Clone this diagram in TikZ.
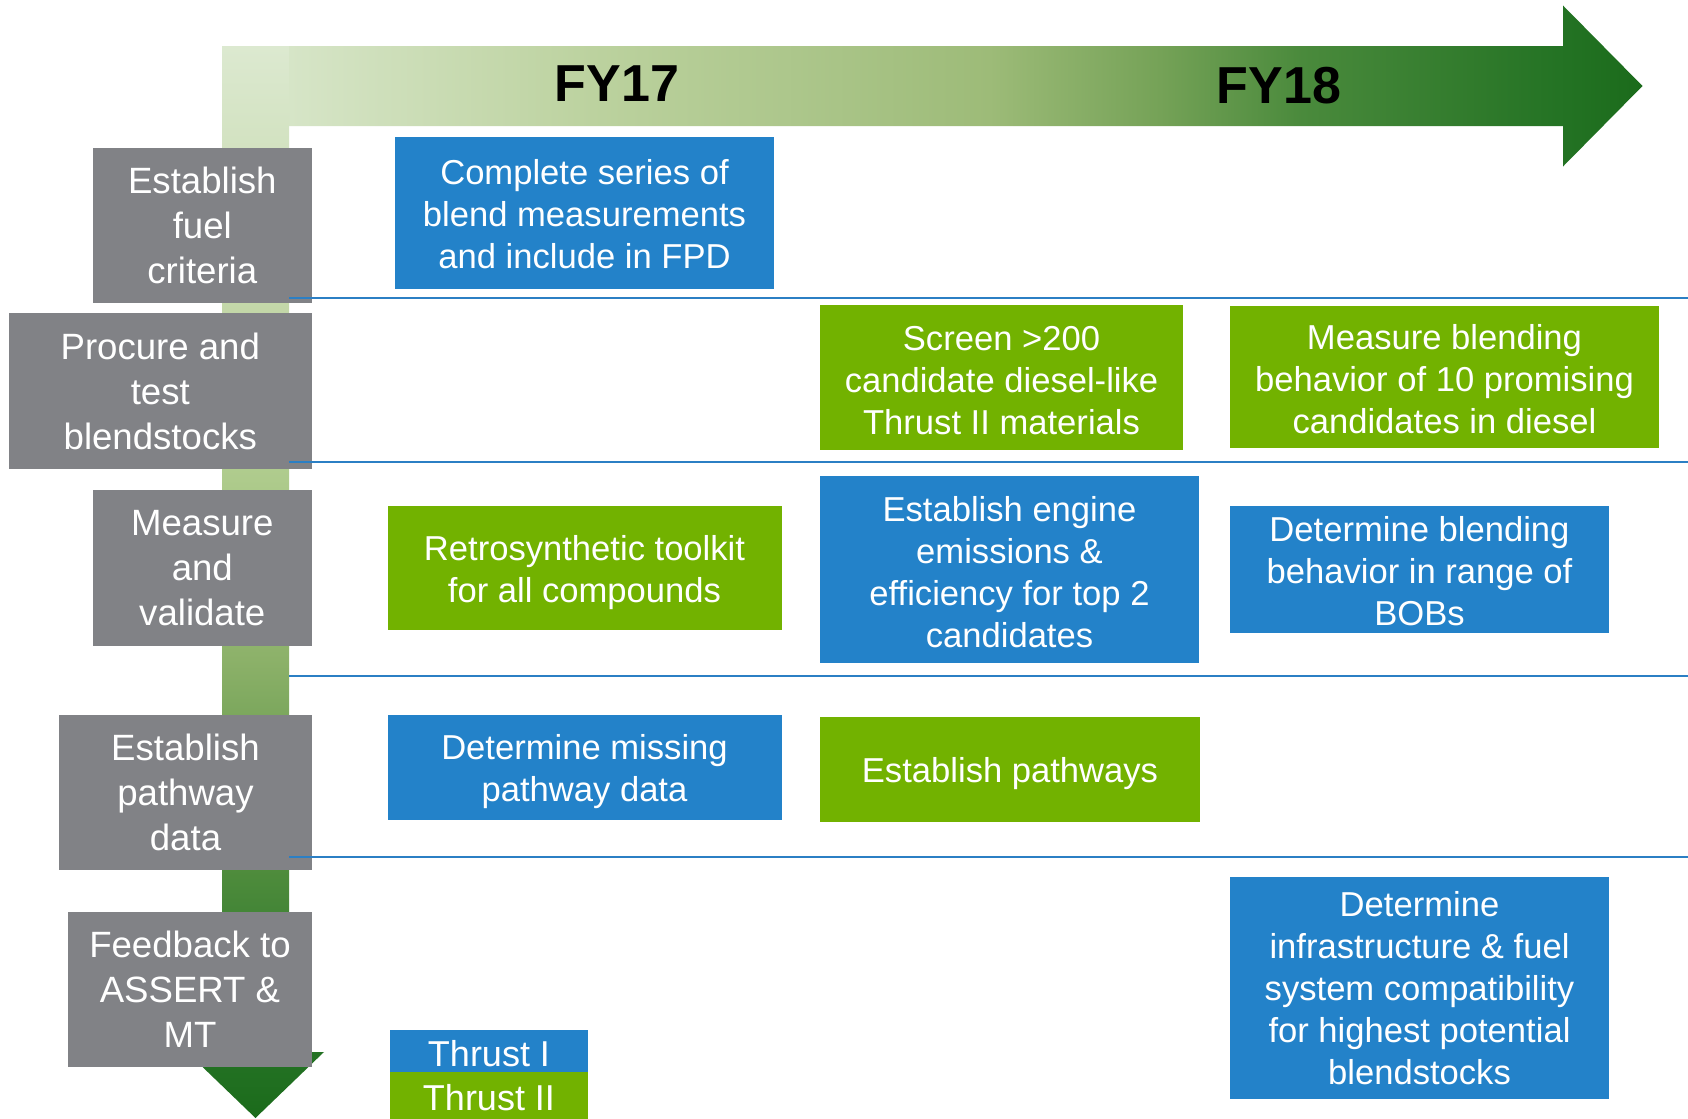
\documentclass[tikz,border=0pt]{standalone}
\usepackage{fontspec}
\setmainfont{Liberation Sans}
\definecolor{boxgray}{HTML}{818286}
\definecolor{tblue}{HTML}{2382C9}
\definecolor{tgreen}{HTML}{72B200}
\definecolor{rowblue}{HTML}{2B7FC4}
\definecolor{h0}{HTML}{DCE9D0}
\definecolor{h1}{HTML}{BCD29F}
\definecolor{h2}{HTML}{9DBB78}
\definecolor{h3}{HTML}{75A257}
\definecolor{h4}{HTML}{4A8A3C}
\definecolor{h5}{HTML}{247324}
\definecolor{h6}{HTML}{1B6B1B}
\definecolor{v0}{HTML}{1B6B1B}
\definecolor{v1}{HTML}{2C782C}
\definecolor{v2}{HTML}{4F8C3C}
\definecolor{v3}{HTML}{8CB169}
\definecolor{v4}{HTML}{AECB8C}
\definecolor{v5}{HTML}{C4D8AA}
\definecolor{v6}{HTML}{DCE9D0}
\pgfdeclarehorizontalshading{hband}{100bp}{color(0bp)=(h0); color(25bp)=(h0); color(38bp)=(h1); color(52bp)=(h2); color(58bp)=(h3); color(63bp)=(h4); color(72bp)=(h5); color(75bp)=(h6); color(100bp)=(h6)}
\pgfdeclareverticalshading{vband}{100bp}{color(0bp)=(v0); color(25bp)=(v0); color(30.5bp)=(v1); color(36.6bp)=(v2); color(46.4bp)=(v3); color(54.8bp)=(v4); color(63.2bp)=(v5); color(75bp)=(v6); color(100bp)=(v6)}
\newcommand{\mystrut}[1]{\rule{0pt}{#1}}
\tikzset{
  graybox/.style={fill=boxgray, text=white, font=\fontsize{18.3}{22.5}\selectfont, align=center, inner sep=0pt},
  bluebox/.style={fill=tblue, text=white, font=\fontsize{17.3}{21}\selectfont, align=center, inner sep=0pt},
  greenbox/.style={fill=tgreen, text=white, font=\fontsize{17.3}{21}\selectfont, align=center, inner sep=0pt},
  fylabel/.style={font=\bfseries\fontsize{26}{30}\selectfont, text=black, inner sep=0pt},
  rowline/.style={draw=rowblue, line width=1pt},
  legendbox/.style={text=white, font=\fontsize{18}{21}\selectfont, align=center, inner sep=0pt, minimum width=99pt}
}
\begin{document}
\begin{tikzpicture}[x=0.5pt,y=-0.5pt]
\useasboundingbox (0,0) rectangle (1688,1119);
\fill[white] (0,0) rectangle (1688,1119);
% timeline arrows
\shade[shading=hband] (222,46) -- (1563,46) -- (1563,5.5) -- (1642.5,86) -- (1563,166.5) -- (1563,126) -- (222,126) -- cycle;
\shade[shading=vband] (222,46) -- (289,46) -- (289,1052) -- (324,1052) -- (255.5,1118) -- (187,1052) -- (222,1052) -- cycle;
\node[fylabel] (fy17) at (617,84) {FY17};
\node[fylabel] (fy18) at (1279,86) {FY18};
% row labels
\node[graybox, minimum width=109.7pt, minimum height=77.5pt] (g1) at (202.3,225) {Establish\\fuel\\criteria};
\node[graybox, minimum width=151.7pt, minimum height=78pt] (g2) at (160.3,391) {Procure and\\test\\blendstocks};
\node[graybox, minimum width=109.7pt, minimum height=78pt] (g3) at (202.3,568) {Measure\\and\\validate};
\node[graybox, minimum width=126.5pt, minimum height=77.5pt] (g4) at (185.5,792.5) {Establish\\pathway\\data};
\node[graybox, minimum width=122pt, minimum height=77.5pt] (g5) at (190,989.5) {Feedback to\\ASSERT \&\\MT};
% row separators
\draw[rowline] (289,298) -- (1688,298);
\draw[rowline] (289,462) -- (1688,462);
\draw[rowline] (289,676) -- (1688,676);
\draw[rowline] (289,857) -- (1688,857);
% tasks
\node[bluebox, minimum width=189.5pt, minimum height=75.75pt] (c1) at (584.5,212.75) {\mystrut{14pt}Complete series of\\blend measurements\\and include in FPD};
\node[greenbox, minimum width=181.5pt, minimum height=72.5pt] (s1) at (1001.5,377.5) {\mystrut{15pt}Screen >200\\candidate diesel-like\\Thrust II materials};
\node[greenbox, minimum width=214.5pt, minimum height=71pt] (m1) at (1444.5,377) {\mystrut{14.5pt}Measure blending\\behavior of 10 promising\\candidates in diesel};
\node[greenbox, minimum width=197pt, minimum height=62pt] (r1) at (584.5,568) {\mystrut{17pt}Retrosynthetic toolkit\\for all compounds};
\node[bluebox, minimum width=189.5pt, minimum height=93.5pt] (e1) at (1009.5,569.5) {\mystrut{15pt}Establish engine\\emissions \&\\efficiency for top 2\\candidates};
\node[bluebox, minimum width=189.5pt, minimum height=63.5pt] (d1) at (1419.5,569.5) {\mystrut{14pt}Determine blending\\behavior in range of\\BOBs};
\node[bluebox, minimum width=197pt, minimum height=52.5pt] (p1) at (584.5,767.5) {\mystrut{16.5pt}Determine missing\\pathway data};
\node[greenbox, minimum width=190pt, minimum height=52.5pt] (p2) at (1010,769.5) {\mystrut{17pt}Establish pathways};
\node[bluebox, minimum width=189.5pt, minimum height=111pt] (i1) at (1419.5,988) {Determine\\infrastructure \& fuel\\system compatibility\\for highest potential\\blendstocks};
% legend
\node[legendbox, fill=tblue, minimum height=21pt] (t1) at (489,1051) {\mystrut{16pt}Thrust I};
\node[legendbox, fill=tgreen, minimum height=23.5pt] (t2) at (489,1095.5) {\mystrut{15.5pt}Thrust II};
\end{tikzpicture}
\end{document}
